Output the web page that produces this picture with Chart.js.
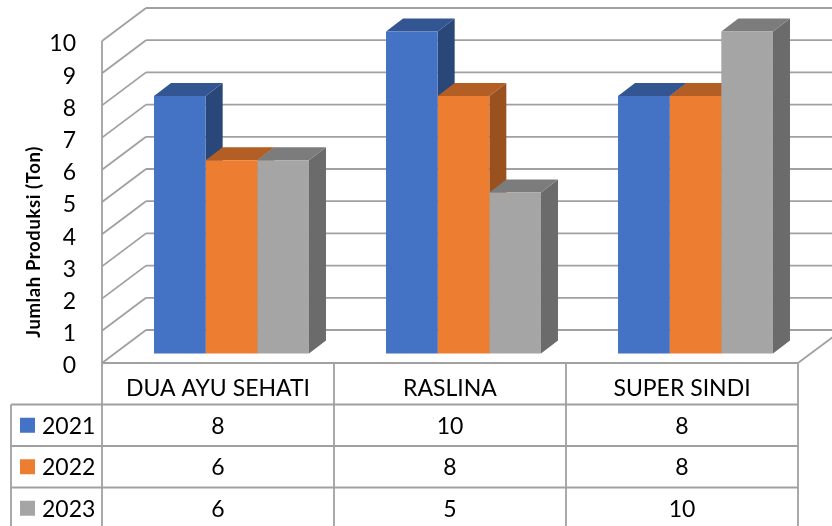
<!DOCTYPE html>
<html>
<head>
<meta charset="utf-8">
<title>Jumlah Produksi</title>
<script src="https://cdn.jsdelivr.net/npm/chart.js@4"></script>
<style>
  html, body { margin: 0; padding: 0; background: #fff; }
  canvas { display: block; }
</style>
</head>
<body>
<canvas id="prodChart" width="832" height="526"></canvas>
<script>
const categories = ["DUA AYU SEHATI", "RASLINA", "SUPER SINDI"];
const seriesNames = ["2021", "2022", "2023"];
const values2021 = [8, 10, 8];
const values2022 = [6, 8, 8];
const values2023 = [6, 5, 10];

const axisTitle = "Jumlah Produksi (Ton)";
const fontName = "Lato, Carlito, sans-serif";
const lineColor = "#a0a0a0";
const lineWidth = 1.8;

// Fake 3D look: the walls sit behind the axis plane, the bars in the middle
const wallDepth = { x: 44, y: -33 };
const barOffset = { x: 13.5, y: -9.5 };
const barDepth = { x: 17, y: -13 };
const rowHeight = 41.5;

const faceColors = [
    { top: "#335693", side: "#2a4779" },
    { top: "#b25e25", side: "#9a5120" },
    { top: "#7c7c7c", side: "#6b6b6b" }
];

function line(ctx, x1, y1, x2, y2) {
    ctx.beginPath();
    ctx.moveTo(x1, y1);
    ctx.lineTo(x2, y2);
    ctx.stroke();
}

function face(ctx, color, points) {
    ctx.fillStyle = color;
    ctx.beginPath();
    points.forEach(p => ctx.lineTo(p[0], p[1]));
    ctx.closePath();
    ctx.fill();
}

// Walls and floor behind the bars, then the side and top of every bar.
// The library paints the fronts afterwards, so they land on top of these.
const wallPlugin = {
    id: "walls",
    beforeDatasetsDraw(chart) {
        const { ctx, chartArea: area, scales: { y } } = chart;
        ctx.save();
        ctx.strokeStyle = lineColor;
        ctx.lineWidth = lineWidth;
        y.ticks.forEach(t => {
            const py = y.getPixelForValue(t.value);
            const bx = area.left + wallDepth.x;
            const by = py + wallDepth.y;
            line(ctx, area.left, py, bx, by);
            line(ctx, bx, by, chart.width, by);
        });
        line(ctx, area.left, area.top, area.left, area.bottom);
        line(ctx, area.right, area.bottom, area.right + wallDepth.x, area.bottom + wallDepth.y);

        ctx.translate(barOffset.x, barOffset.y);
        categories.forEach((c, i) => {
            chart.data.datasets.forEach((ds, d) => {
                const bar = chart.getDatasetMeta(d).data[i];
                const { x, y: top, base, width } = bar.getProps(["x", "y", "base", "width"]);
                const l = x - width / 2;
                const r = x + width / 2;
                const dx = barDepth.x;
                const dy = barDepth.y;
                face(ctx, faceColors[d].side, [[r, top], [r + dx, top + dy], [r + dx, base + dy], [r, base]]);
                face(ctx, faceColors[d].top, [[l, top], [l + dx, top + dy], [r + dx, top + dy], [r, top]]);
            });
        });
        ctx.restore();
    }
};

// Moves the library's bar fronts onto the bar plane
const barPlugin = {
    id: "barPlane",
    beforeDatasetDraw(chart) {
        chart.ctx.save();
        chart.ctx.translate(barOffset.x, barOffset.y);
    },
    afterDatasetDraw(chart) {
        chart.ctx.restore();
    }
};

// Data table under the plot, y labels and axis title
const tablePlugin = {
    id: "dataTable",
    afterDraw(chart) {
        const { ctx, chartArea: area, scales: { x, y } } = chart;
        const step = (area.right - area.left) / categories.length;
        const tableLeft = 11;
        const head = area.bottom + rowHeight;
        const bottom = head + rowHeight * seriesNames.length;

        ctx.save();
        ctx.strokeStyle = lineColor;
        ctx.lineWidth = lineWidth;
        line(ctx, area.left, area.bottom, area.right, area.bottom);
        for (let i = 0; i <= categories.length; i++) {
            const px = area.left + step * i;
            line(ctx, px, area.bottom, px, bottom);
        }
        line(ctx, tableLeft, head, tableLeft, bottom);
        for (let r = 0; r <= seriesNames.length; r++) {
            line(ctx, tableLeft, head + rowHeight * r, area.right, head + rowHeight * r);
        }

        ctx.font = "23px " + fontName;
        ctx.textBaseline = "middle";
        chart.data.datasets.forEach((ds, r) => {
            const cy = head + rowHeight * r + rowHeight / 2;
            ctx.fillStyle = ds.backgroundColor;
            ctx.fillRect(20, cy - 7.5, 15, 15);
            ctx.fillStyle = "#000";
            ctx.textAlign = "left";
            ctx.fillText(seriesNames[r], 42, cy + 1);
            ctx.textAlign = "center";
            ds.data.forEach((v, c) => ctx.fillText(v, x.getPixelForTick(c), cy + 1));
        });

        ctx.textAlign = "right";
        y.ticks.forEach(t => ctx.fillText(t.value, 76, y.getPixelForValue(t.value) + 3));

        ctx.textAlign = "center";
        ctx.translate(34, 242);
        ctx.rotate(-Math.PI / 2);
        ctx.font = "bold 18.5px " + fontName;
        ctx.letterSpacing = "0.6px";
        ctx.fillText(axisTitle, 0, 0);
        ctx.restore();
    }
};

new Chart(document.getElementById("prodChart"), {
    type: "bar",
    data: {
        labels: categories,
        datasets: [
            { label: seriesNames[0], data: values2021, backgroundColor: "#4472c4" },
            { label: seriesNames[1], data: values2022, backgroundColor: "#ed7d31" },
            { label: seriesNames[2], data: values2023, backgroundColor: "#a5a5a5" }
        ]
    },
    options: {
        responsive: false,
        animation: false,
        clip: false,
        categoryPercentage: 0.668,
        barPercentage: 1,
        layout: { padding: { top: 41, right: 34, left: 0, bottom: 0 } },
        plugins: { legend: { display: false }, tooltip: { enabled: false } },
        scales: {
            x: {
                grid: { display: false },
                border: { display: false },
                afterFit: s => { s.height = 163; },
                ticks: {
                    color: "#000",
                    font: { family: fontName, size: 23 },
                    padding: 4,
                    maxRotation: 0,
                    autoSkip: false
                }
            },
            y: {
                min: 0,
                max: 10,
                grid: { display: false },
                border: { display: false },
                afterFit: s => { s.width = 102; },
                ticks: { display: false, stepSize: 1 }
            }
        }
    },
    plugins: [wallPlugin, barPlugin, tablePlugin]
});
</script>
</body>
</html>
